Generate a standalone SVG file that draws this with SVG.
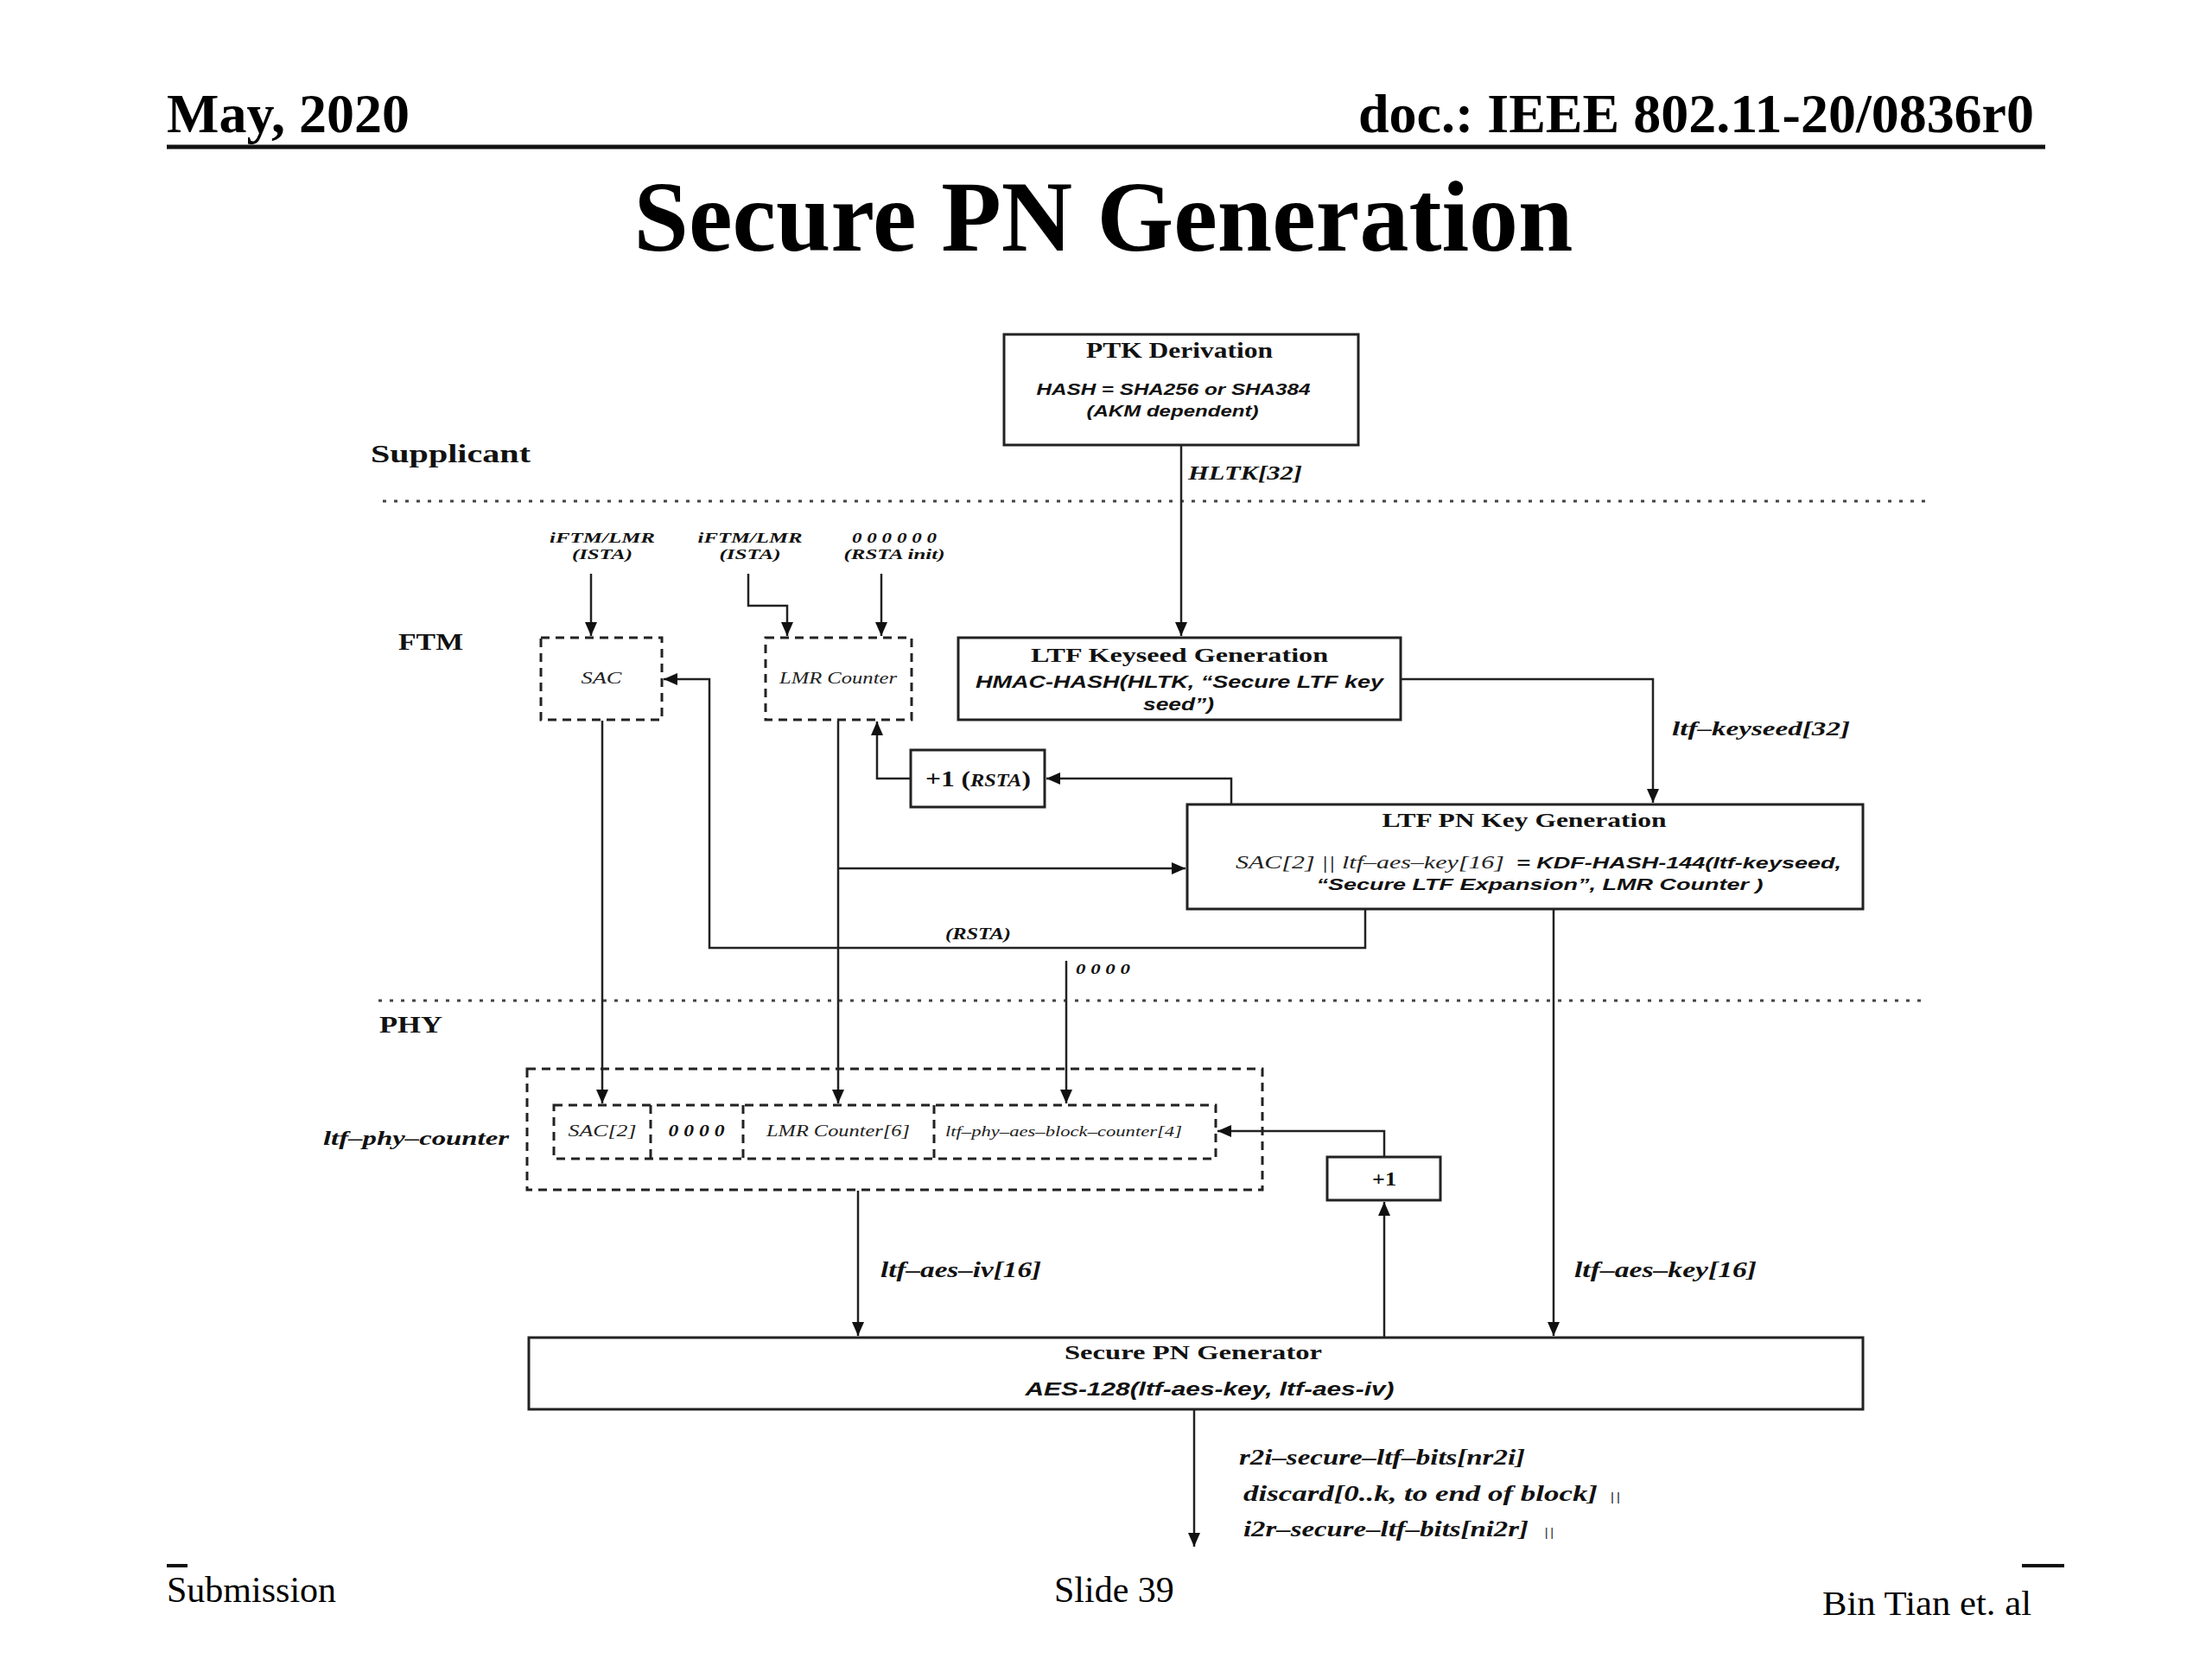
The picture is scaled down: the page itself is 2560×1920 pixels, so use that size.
<svg xmlns="http://www.w3.org/2000/svg" width="2560" height="1920" viewBox="0 0 2560 1920">
<style>
.hdr{font-family:"Liberation Serif","Times New Roman",serif;fill:#000}
.b{font-family:"Liberation Serif",serif;font-weight:bold;fill:#111}
.bi{font-family:"Liberation Serif",serif;font-weight:bold;font-style:italic;fill:#111}
.i{font-family:"Liberation Serif",serif;font-style:italic;fill:#222}
.si{font-family:"Liberation Sans",Arial,sans-serif;font-weight:bold;font-style:italic;fill:#111}
.box{fill:#fff;stroke:#222;stroke-width:3}
.dbox{fill:none;stroke:#222;stroke-width:3;stroke-dasharray:10 7}
.dot{stroke:#444;stroke-width:3;stroke-dasharray:4 9;fill:none}
.c{fill:none;stroke:#222;stroke-width:2.5}
.ca{fill:none;stroke:#222;stroke-width:2.5;marker-end:url(#ah)}
</style>
<defs>
<marker id="ah" markerUnits="userSpaceOnUse" markerWidth="16" markerHeight="14" refX="16" refY="7" orient="auto">
<path d="M0,0 L16,7 L0,14 z" fill="#111"/>
</marker>
</defs>
<rect x="0" y="0" width="2560" height="1920" fill="#fff"/>

<g id="header">
<text class="hdr" x="193" y="153" font-size="64" font-weight="bold">May, 2020</text>
<text class="hdr" x="2354" y="153" font-size="64" font-weight="bold" text-anchor="end" textLength="782" lengthAdjust="spacingAndGlyphs">doc.: IEEE 802.11-20/0836r0</text>
<line x1="193" y1="170" x2="2367" y2="170" stroke="#111" stroke-width="5"/>
<text class="hdr" x="1277" y="290" font-size="116" font-weight="bold" text-anchor="middle" textLength="1087" lengthAdjust="spacingAndGlyphs">Secure PN Generation</text>
</g>

<g id="footer">
<rect x="193" y="1810" width="24" height="4" fill="#111"/>
<rect x="2340" y="1810" width="49" height="4" fill="#111"/>
<text class="hdr" x="193" y="1854" font-size="42">Submission</text>
<text class="hdr" x="1220" y="1854" font-size="42">Slide 39</text>
<text class="hdr" x="2109" y="1869" font-size="41" textLength="242" lengthAdjust="spacingAndGlyphs">Bin Tian et. al</text>
</g>

<g id="layers">
<line class="dot" x1="443" y1="580" x2="2229" y2="580"/>
<line class="dot" x1="438" y1="1158" x2="2224" y2="1158"/>
<text class="b" x="429" y="535" font-size="30" textLength="185" lengthAdjust="spacingAndGlyphs">Supplicant</text>
<text class="b" x="461" y="752" font-size="28" textLength="75" lengthAdjust="spacingAndGlyphs">FTM</text>
<text class="b" x="439" y="1195" font-size="28" textLength="73" lengthAdjust="spacingAndGlyphs">PHY</text>
</g>

<g id="connectors">
<path class="ca" d="M1367,516 V736"/>
<path class="ca" d="M684,664 V736"/>
<path class="ca" d="M866,664 V701 H911 V736"/>
<path class="ca" d="M1020,664 V736"/>
<path class="ca" d="M1621,786 H1913 V929"/>
<path class="ca" d="M1425,931 V901 H1211"/>
<path class="ca" d="M1054,901 H1015 V835"/>
<path class="ca" d="M970,834 V1277"/>
<path class="ca" d="M970,1005 H1372"/>
<path class="ca" d="M1580,1052 V1097 H821 V786 H768"/>
<path class="ca" d="M697,834 V1277"/>
<path class="ca" d="M1234,1112 V1277"/>
<path class="ca" d="M993,1378 V1546"/>
<path class="ca" d="M1798,1053 V1546"/>
<path class="ca" d="M1602,1548 V1391"/>
<path class="ca" d="M1602,1339 V1309 H1409"/>
<path class="ca" d="M1382,1632 V1790"/>
</g>

<g id="connector-labels">
<text class="bi" x="1375" y="555" font-size="23" textLength="132" lengthAdjust="spacingAndGlyphs">HLTK[32]</text>
<text class="bi" x="1935" y="851" font-size="23" textLength="206" lengthAdjust="spacingAndGlyphs">ltf–keyseed[32]</text>
<text class="bi" x="1094" y="1087" font-size="18" textLength="76" lengthAdjust="spacingAndGlyphs">(RSTA)</text>
<text class="bi" x="1245" y="1127" font-size="17" textLength="63" lengthAdjust="spacingAndGlyphs">0 0 0 0</text>
<text class="bi" x="697" y="628" font-size="17" text-anchor="middle" textLength="122" lengthAdjust="spacingAndGlyphs">iFTM/LMR</text>
<text class="bi" x="697" y="647" font-size="17" text-anchor="middle" textLength="70" lengthAdjust="spacingAndGlyphs">(ISTA)</text>
<text class="bi" x="868" y="628" font-size="17" text-anchor="middle" textLength="121" lengthAdjust="spacingAndGlyphs">iFTM/LMR</text>
<text class="bi" x="868" y="647" font-size="17" text-anchor="middle" textLength="71" lengthAdjust="spacingAndGlyphs">(ISTA)</text>
<text class="bi" x="1035" y="628" font-size="17" text-anchor="middle" textLength="98" lengthAdjust="spacingAndGlyphs">0 0 0 0 0 0</text>
<text class="bi" x="1035" y="647" font-size="17" text-anchor="middle" textLength="117" lengthAdjust="spacingAndGlyphs">(RSTA init)</text>
<text class="bi" x="374" y="1325" font-size="24" textLength="215" lengthAdjust="spacingAndGlyphs">ltf–phy–counter</text>
<text class="bi" x="1019" y="1478" font-size="25" textLength="186" lengthAdjust="spacingAndGlyphs">ltf–aes–iv[16]</text>
<text class="bi" x="1822" y="1478" font-size="25" textLength="211" lengthAdjust="spacingAndGlyphs">ltf–aes–key[16]</text>
<text class="bi" x="1434" y="1695" font-size="25" textLength="331" lengthAdjust="spacingAndGlyphs">r2i–secure–ltf–bits[nr2i]</text>
<text class="bi" x="1439" y="1737" font-size="25" textLength="410" lengthAdjust="spacingAndGlyphs">discard[0..k, to end of block]</text>
<text class="i" x="1862" y="1737" font-size="14" textLength="14" lengthAdjust="spacingAndGlyphs">||</text>
<text class="bi" x="1439" y="1778" font-size="25" textLength="330" lengthAdjust="spacingAndGlyphs">i2r–secure–ltf–bits[ni2r]</text>
<text class="i" x="1786" y="1778" font-size="14" textLength="13" lengthAdjust="spacingAndGlyphs">||</text>
</g>

<g id="ptk-derivation">
<rect class="box" x="1162" y="387" width="410" height="128"/>
<text class="b" x="1365" y="414" font-size="26" text-anchor="middle" textLength="216" lengthAdjust="spacingAndGlyphs">PTK Derivation</text>
<text class="si" x="1358" y="457" font-size="19" text-anchor="middle" textLength="317" lengthAdjust="spacingAndGlyphs">HASH = SHA256 or SHA384</text>
<text class="si" x="1357" y="482" font-size="19" text-anchor="middle" textLength="199" lengthAdjust="spacingAndGlyphs">(AKM dependent)</text>
</g>

<g id="ltf-keyseed-generation">
<rect class="box" x="1109" y="738" width="512" height="95"/>
<text class="b" x="1365" y="766" font-size="24" text-anchor="middle" textLength="344" lengthAdjust="spacingAndGlyphs">LTF Keyseed Generation</text>
<text class="si" x="1365" y="796" font-size="20" text-anchor="middle" textLength="472" lengthAdjust="spacingAndGlyphs">HMAC-HASH(HLTK, “Secure LTF key</text>
<text class="si" x="1364" y="822" font-size="20" text-anchor="middle" textLength="82" lengthAdjust="spacingAndGlyphs">seed”)</text>
</g>

<g id="sac">
<rect class="dbox" x="626" y="738" width="140" height="95"/>
<text class="i" x="696" y="791" font-size="18" text-anchor="middle" textLength="47" lengthAdjust="spacingAndGlyphs">SAC</text>
</g>

<g id="lmr-counter">
<rect class="dbox" x="886" y="738" width="169" height="95"/>
<text class="i" x="970" y="791" font-size="18" text-anchor="middle" textLength="136" lengthAdjust="spacingAndGlyphs">LMR Counter</text>
</g>

<g id="plus1-rsta">
<rect class="box" x="1054" y="868" width="155" height="66"/>
<text class="b" x="1071" y="910" font-size="26" textLength="122" lengthAdjust="spacingAndGlyphs">+1 (<tspan font-style="italic" font-size="20">RSTA</tspan>)</text>
</g>

<g id="ltf-pn-key-generation">
<rect class="box" x="1374" y="931" width="782" height="121"/>
<text class="b" x="1764" y="957" font-size="24" text-anchor="middle" textLength="329" lengthAdjust="spacingAndGlyphs">LTF PN Key Generation</text>
<text class="i" x="1430" y="1005" font-size="22" textLength="311" lengthAdjust="spacingAndGlyphs">SAC[2] || ltf–aes–key[16]</text>
<text class="si" x="1755" y="1005" font-size="19" textLength="376" lengthAdjust="spacingAndGlyphs">= KDF-HASH-144(ltf-keyseed,</text>
<text class="si" x="1782" y="1030" font-size="19" text-anchor="middle" textLength="517" lengthAdjust="spacingAndGlyphs">“Secure LTF Expansion”, LMR Counter )</text>
</g>

<g id="ltf-phy-counter">
<rect class="dbox" x="610" y="1237" width="851" height="140"/>
<rect class="dbox" x="641" y="1279" width="766" height="62"/>
<line class="dbox" x1="753" y1="1279" x2="753" y2="1341"/>
<line class="dbox" x1="860" y1="1279" x2="860" y2="1341"/>
<line class="dbox" x1="1081" y1="1279" x2="1081" y2="1341"/>
<text class="i" x="697" y="1315" font-size="19" text-anchor="middle" textLength="79" lengthAdjust="spacingAndGlyphs">SAC[2]</text>
<text class="bi" x="806" y="1315" font-size="19" text-anchor="middle" textLength="65" lengthAdjust="spacingAndGlyphs">0 0 0 0</text>
<text class="i" x="970" y="1315" font-size="19" text-anchor="middle" textLength="166" lengthAdjust="spacingAndGlyphs">LMR Counter[6]</text>
<text class="i" x="1231" y="1315" font-size="17" text-anchor="middle" textLength="274" lengthAdjust="spacingAndGlyphs">ltf–phy–aes–block–counter[4]</text>
</g>

<g id="plus1">
<rect class="box" x="1536" y="1339" width="131" height="50"/>
<text class="b" x="1602" y="1372" font-size="24" text-anchor="middle" textLength="28" lengthAdjust="spacingAndGlyphs">+1</text>
</g>

<g id="secure-pn-generator">
<rect class="box" x="612" y="1548" width="1544" height="83"/>
<text class="b" x="1381" y="1573" font-size="24" text-anchor="middle" textLength="298" lengthAdjust="spacingAndGlyphs">Secure PN Generator</text>
<text class="si" x="1400" y="1615" font-size="22" text-anchor="middle" textLength="427" lengthAdjust="spacingAndGlyphs">AES-128(ltf-aes-key, ltf-aes-iv)</text>
</g>
</svg>
